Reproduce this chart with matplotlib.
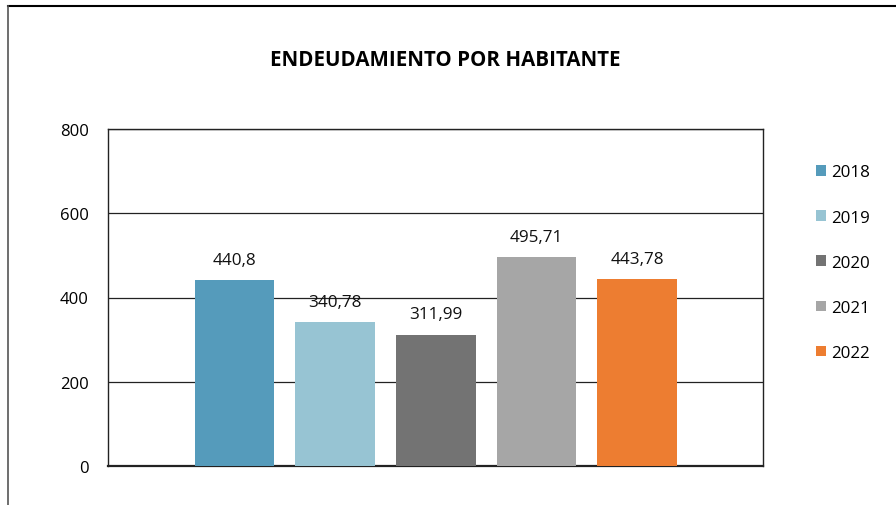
import matplotlib.pyplot as plt
from matplotlib.lines import Line2D

plt.rcParams['font.family'] = ['Open Sans', 'DejaVu Sans']

# data
years = ['2018', '2019', '2020', '2021', '2022']
values = [440.8, 340.78, 311.99, 495.71, 443.78]
labels = ['440,8', '340,78', '311,99', '495,71', '443,78']
colors = ['#559BBB', '#97C4D3', '#737373', '#A6A6A6', '#ED7D31']
yticks = [0, 200, 400, 600, 800]

fig = plt.figure(figsize=(8.96, 5.06), dpi=100)
ax = fig.add_axes([108 / 896, 39 / 506, 655 / 896, 337 / 506])

for i, (yr, v, lab, c) in enumerate(zip(years, values, labels, colors)):
    ax.bar(i, v, width=0.79, color=c, label=yr, zorder=3)
    ax.annotate(lab, (i, v), xytext=(0, 9), textcoords='offset points',
                ha='center', va='bottom', fontsize=12.3, color='#111111')

ax.set_xlim(-1.257, 5.25)
ax.set_ylim(0, 800)
ax.set_yticks(yticks)
ax.set_yticklabels([str(t) for t in yticks], fontsize=12)
ax.set_xticks([])
ax.tick_params(axis='y', length=0, pad=14)
ax.yaxis.grid(True, color='#222222', linewidth=0.9)
for s in ax.spines.values():
    s.set_color('#222222')
    s.set_linewidth(1.0)
ax.spines['bottom'].set_linewidth(1.6)

fig.text(445 / 896, 1 - 60 / 506, 'ENDEUDAMIENTO POR HABITANTE', ha='center',
         va='center', fontsize=14.8, fontweight='bold')

leg = ax.legend(loc='upper left', bbox_to_anchor=(1.058, 0.94), frameon=False,
                handlelength=0.6, handleheight=0.6, handletextpad=0.3,
                labelspacing=1.72, fontsize=12.2)

# outer frame of the chart object
fig.add_artist(Line2D([8 / 896, 1], [1 - 7 / 506, 1 - 7 / 506],
                      transform=fig.transFigure, color='black', linewidth=1.5))
fig.add_artist(Line2D([8 / 896, 8 / 896], [0, 1 - 7 / 506],
                      transform=fig.transFigure, color='#555555', linewidth=1.2))

fig.savefig('out.png', dpi=100)
